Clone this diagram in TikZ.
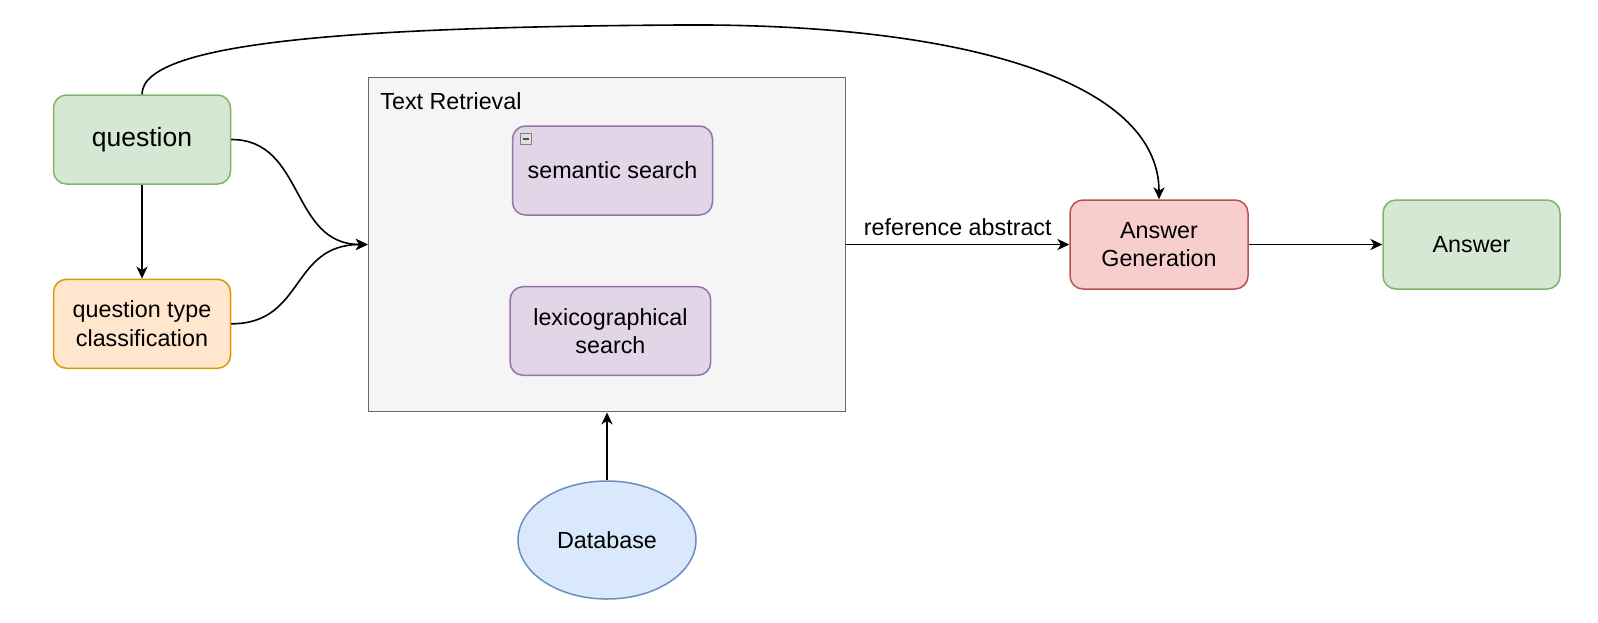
\documentclass[tikz,border=0pt]{standalone}
\usepackage{fontspec}
\setmainfont{Liberation Sans}
\usetikzlibrary{arrows.meta,shapes.geometric}
\definecolor{gfill}{HTML}{D5E8D4}\definecolor{gline}{HTML}{82B366}
\definecolor{ofill}{HTML}{FFE6CC}\definecolor{oline}{HTML}{D79B00}
\definecolor{pfill}{HTML}{E1D5E7}\definecolor{pline}{HTML}{9673A6}
\definecolor{rfill}{HTML}{F8CECC}\definecolor{rline}{HTML}{B85450}
\definecolor{bfill}{HTML}{DAE8FC}\definecolor{bline}{HTML}{6C8EBF}
\definecolor{cfill}{HTML}{F5F5F5}\definecolor{cline}{HTML}{666666}
\tikzset{
  txt/.style={font=\fontsize{11.65}{14.3}\selectfont, align=center, text=black},
  rbox/.style={txt, rounded corners=6.5pt, line width=0.75pt, inner sep=0pt},
  arr/.style={line width=0.8pt, -{Stealth[length=6pt,width=5.6pt,inset=1.8pt]}},
}
\begin{document}
\begin{tikzpicture}[x=0.5pt,y=-0.5pt]
\useasboundingbox (0,0) rectangle (1598,622);
% container
\node[draw=cline, fill=cfill, line width=0.75pt, minimum width=238.5pt, minimum height=167.2pt, inner sep=0pt] (tr) at (607,244.5) {};
\node[txt, anchor=west, inner sep=0pt] (trlabel) at (380,101) {Text Retrieval};
\node[rbox, draw=pline, fill=pfill, minimum width=100pt, minimum height=44.5pt] (sem) at (612.5,170.5) {semantic search};
\draw[gray, fill=gray!25, line width=0.4pt] (520,133) rectangle (531.5,144.5);
\draw[black!70, line width=0.8pt] (522.5,138.8) -- (529,138.8);
\node[rbox, draw=pline, fill=pfill, minimum width=100.3pt, minimum height=44.3pt] (lex) at (610.4,331) {lexicographical\\search};
% left nodes
\node[rbox, draw=gline, fill=gfill, minimum width=88.5pt, minimum height=44.5pt, font=\fontsize{13.25}{16}\selectfont] (q) at (142,139.5) {question};
\node[rbox, draw=oline, fill=ofill, minimum width=88.5pt, minimum height=44.5pt] (qtc) at (142,323.8) {question type\\classification};
% database
\node[txt, ellipse, draw=bline, fill=bfill, line width=0.75pt, minimum width=89pt, minimum height=59pt, inner sep=0pt] (db) at (607,540) {Database};
% right nodes
\node[rbox, draw=rline, fill=rfill, minimum width=89pt, minimum height=44.5pt] (ag) at (1159,244.5) {Answer\\Generation};
\node[rbox, draw=gline, fill=gfill, minimum width=88.5pt, minimum height=44.5pt] (ans) at (1471.5,244.5) {Answer};
% connectors
\draw[arr] (q.south) -- (qtc.north);
\draw[arr] (q.east) .. controls (305,139.5) and (290,244.5) .. (tr.west);
\draw[arr] (qtc.east) .. controls (305,323.8) and (290,244.5) .. (tr.west);
\draw[arr] (db.north) -- (tr.south);
\draw[arr] (tr.east) -- node[txt, above=4pt, inner sep=0pt] (reflabel) {reference abstract} (ag.west);
\draw[arr] (ag.east) -- (ans.west);
\coordinate (peak) at (680,25);
\draw[arr] (q.north) .. controls (142,40) and (370,27) .. (peak) .. controls (960,23) and (1159,80) .. (ag.north);
\end{tikzpicture}
\end{document}
